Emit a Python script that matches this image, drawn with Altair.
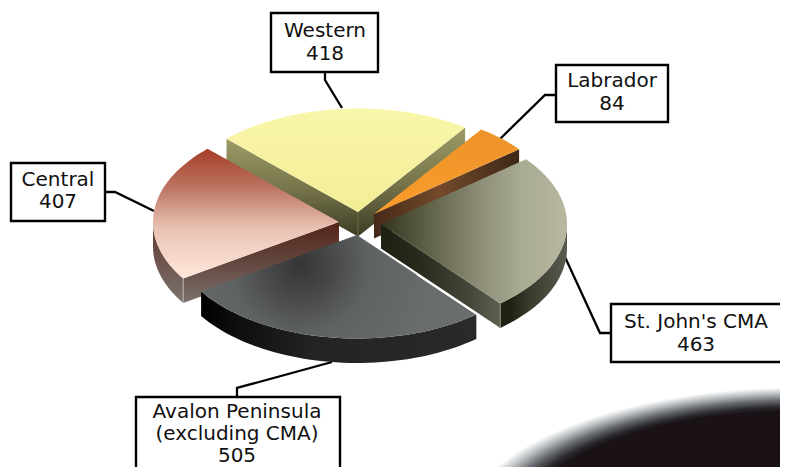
import math
import altair as alt
import pandas as pd

# ---- data
categories = ["Western", "Labrador", "St. John's CMA", "Avalon Peninsula (excluding CMA)", "Central"]
values = [418, 84, 463, 505, 407]

label_lines = [
    ["Western", "418"],
    ["Labrador", "84"],
    ["St. John's CMA", "463"],
    ["Avalon Peninsula", "(excluding CMA)", "505"],
    ["Central", "407"],
]

# ---- layout (page pixels)
W, H = 780, 467
START = -45.0
RX, RY, DEPTH = 186, 103.5, 24.5
apex = {
    "Western": (358, 212),
    "Labrador": (374, 214),
    "St. John's CMA": (381, 224),
    "Avalon Peninsula (excluding CMA)": (357, 235),
    "Central": (339, 222),
}
boxes = [(271, 13, 378, 72), (556, 65, 668, 122), (611, 304, 800, 362), (136, 397, 340, 490), (11, 163, 105, 221)]
text_x = [325, 612, 696, 237, 58]
text_y = [[37, 60], [87, 110], [328, 351], [418, 440, 462], [186, 208]]
leaders = [
    [(325, 72), (325, 80), (342, 108)],
    [(556, 95), (545, 95), (500, 139)],
    [(611, 333), (600, 333), (565, 257)],
    [(237, 397), (237, 388), (332, 362)],
    [(105, 192), (115, 192), (154, 211)],
]

X = alt.Scale(domain=[8, W], range=[0, W - 8], nice=False, zero=False)
Y = alt.Scale(domain=[8, H], range=[0, H - 8], nice=False, zero=False)
x_enc = alt.X("x:Q", scale=X, axis=None)
y_enc = alt.Y("y:Q", scale=Y, axis=None)

# slice angles come from the values
total = sum(values)
span = {}
a = START
for c, v in zip(categories, values):
    b = a + 360.0 * v / total
    span[c] = (a, b)
    a = b


def rim(c, t, dz=0):
    cx, cy = apex[c]
    r = math.radians(t)
    return (cx + RX * math.sin(r), cy - RY * math.cos(r) + dz)


def arc(c, a, b, dz=0):
    n = max(2, int(abs(b - a) / 2))
    return [rim(c, a + (b - a) * i / n, dz) for i in range(n + 1)]


def top(c):
    a, b = span[c]
    return [apex[c]] + arc(c, a, b)


def cut(c, t):
    ax, ay = apex[c]
    p, q = rim(c, t), rim(c, t, DEPTH)
    return [(ax, ay), p, q, (ax, ay + DEPTH)]


def wall(c, a, b):
    return arc(c, a, b) + arc(c, b, a, DEPTH)


def grad(stops, x1=0, y1=0, x2=0, y2=1):
    return alt.LinearGradient(
        gradient="linear", x1=x1, y1=y1, x2=x2, y2=y2,
        stops=[alt.GradientStop(offset=o, color=col) for o, col in stops],
    )


def face(points, fill):
    df = pd.DataFrame(points, columns=["x", "y"]).assign(i=range(len(points)))
    return alt.Chart(df).mark_line(fill=fill, stroke="transparent", strokeWidth=0, clip=True, interpolate="linear-closed").encode(
        x=x_enc, y=y_enc, order="i:Q")


def stroke_line(points, color, width):
    df = pd.DataFrame(points, columns=["x", "y"]).assign(i=range(len(points)))
    return alt.Chart(df).mark_line(color=color, strokeWidth=width, clip=True).encode(
        x=x_enc, y=y_enc, order="i:Q")


Wn, Lb, Sj, Av, Ce = categories

layers = []

# background shadow ellipse, drawn as soft rings from the outside in
bx, by, ba, bb = 800, 531, 340, 144
ring_stops = [(1.00, (255, 255, 255)), (0.955, (181, 186, 189)), (0.91, (102, 106, 111)),
              (0.865, (43, 41, 46)), (0.835, (26, 18, 22))]
for n in range(34):
    f = 1.0 - (1.0 - 0.835) * n / 33
    for (f0, c0), (f1, c1) in zip(ring_stops, ring_stops[1:]):
        if f1 <= f <= f0:
            u = (f0 - f) / (f0 - f1)
            rgb = [round(p + (q - p) * u) for p, q in zip(c0, c1)]
            break
    col = "#%02x%02x%02x" % tuple(rgb)
    ring = [(bx + f * ba * math.cos(math.radians(t)), by + f * bb * math.sin(math.radians(t))) for t in range(0, 360, 3)]
    layers.append(face(ring, col))

# leader lines
for seg in leaders:
    layers.append(stroke_line(seg, "#000000", 2.3))

# Western
wall_w = [(0, "#9c9a66"), (0.5, "#77764c"), (1, "#3c3c24")]
wa, wb = span[Wn]
layers += [
    face(cut(Wn, wa), grad(wall_w)),
    face(cut(Wn, wb), grad(wall_w)),
    face(top(Wn), grad([(0, "#faf6aa"), (1, "#f2ed96")])),
    stroke_line([apex[Wn], (apex[Wn][0], apex[Wn][1] + DEPTH)], "#6f6f4c", 1),
]

# Labrador
la, lb = span[Lb]
layers += [
    face(cut(Lb, lb), grad([(0, "#45291a"), (0.45, "#744a2a"), (1, "#3d2817")], x2=1, y2=0)),
    face(top(Lb), grad([(0, "#ec932b"), (1, "#fa9c2a")])),
]

# St. John's
sa, sb = span[Sj]
layers += [
    face(cut(Sj, sb), grad([(0, "#1d2013"), (0.35, "#2a2c1f"), (0.75, "#45473a"), (1, "#5f6152")], x2=1, y2=0)),
    face(wall(Sj, sb, 90), grad([(0, "#5a5b50"), (0.55, "#3b3c2e"), (0.85, "#1f2113"), (1, "#1f2113")], x1=1, x2=0, y2=0)),
    face(top(Sj), grad([(0, "#34351e"), (0.25, "#5f6048"), (0.55, "#90907a"), (0.75, "#a8aa92"), (1, "#b9b79f")], x2=1, y2=0)),
    stroke_line([rim(Sj, sb), rim(Sj, sb, DEPTH)], "#8b8d78", 1),
]

# Central
ca, cb = span[Ce]
wall_c = [(0, "#56231a"), (0.4, "#5f3f36"), (1, "#7b726d")]
layers += [
    face(cut(Ce, ca), grad(wall_c)),
    face(wall(Ce, 270, ca), grad([(0, "#5f3a30"), (1, "#7b726d")])),
    face(top(Ce), grad([(0, "#a53e27"), (0.3, "#bd7462"), (0.62, "#e9c4b5"), (1, "#ffe7db")])),
    stroke_line([rim(Ce, ca), rim(Ce, ca, DEPTH)], "#bdb6b1", 1),
]

# Avalon
aa, ab = span[Av]
av_top = alt.RadialGradient(
    gradient="radial", x1=0.36, y1=0.42, x2=0.36, y2=0.42, r1=0, r2=0.5,
    stops=[alt.GradientStop(offset=0, color="#333536"),
           alt.GradientStop(offset=0.25, color="#48494b"),
           alt.GradientStop(offset=0.5, color="#5f6263"),
           alt.GradientStop(offset=1, color="#6a6d6d")],
)
layers += [
    face(wall(Av, aa, ab), grad([(0, "#000000"), (0.15, "#101010"), (0.4, "#232323"), (1, "#2a2a2a")], x2=1, y2=0)),
    face(top(Av), av_top),
    stroke_line([(apex[Av][0] + 60, apex[Av][1] + 40), rim(Av, aa)], "#ffffff", 1),
]

# label boxes and text
rows = []
for k, (x0, y0, x1, y1) in enumerate(boxes):
    df = pd.DataFrame([{"x": x0, "x2": x1, "y": y0, "y2": y1}])
    layers.append(alt.Chart(df).mark_rect(fill="#ffffff", stroke="#000000", strokeWidth=2.4, clip=True).encode(
        x=x_enc, x2="x2:Q", y=y_enc, y2="y2:Q"))
    for line, ty in zip(label_lines[k], text_y[k]):
        rows.append({"x": text_x[k], "y": ty, "t": line})
layers.append(alt.Chart(pd.DataFrame(rows)).mark_text(
    font="DejaVu Sans", fontSize=20, color="#111111", align="center", baseline="alphabetic", clip=True
).encode(x=x_enc, y=y_enc, text="t:N"))

chart = alt.layer(*layers).properties(
    width=W - 8, height=H - 8, padding=0, autosize=alt.AutoSizeParams(type="none"), background="#ffffff"
).configure_view(stroke=None)

chart.save("out.html", embed_options={"renderer": "svg", "actions": False})
